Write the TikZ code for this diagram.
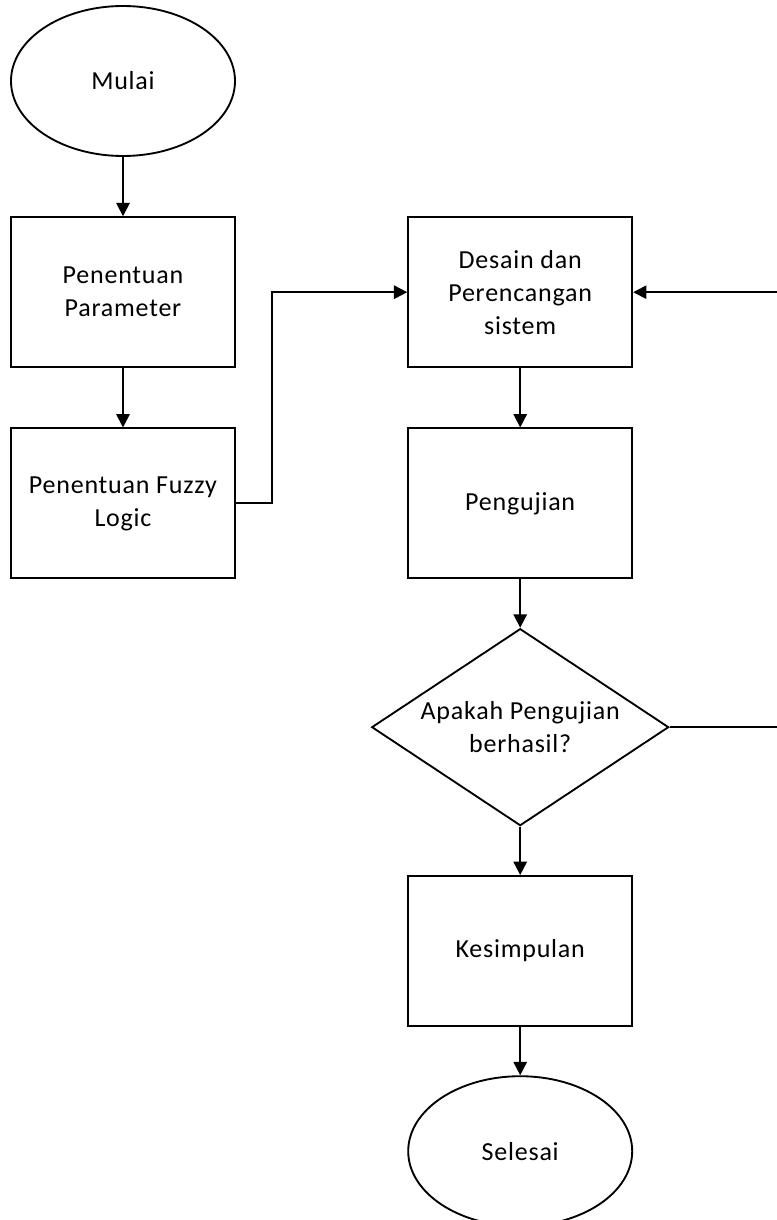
\documentclass[tikz,border=0pt]{standalone}
\usepackage{fontspec}
\setmainfont{Carlito}[LetterSpace=3]
\usetikzlibrary{arrows.meta, positioning, shapes.geometric}

\begin{document}
\begin{tikzpicture}[->,>={Triangle[length=10pt,width=10pt]},line width=1.4pt,
                    node distance=44.5pt,font=\fontsize{19.5}{24.75}\selectfont,
                    terminal/.style={ellipse,draw,minimum width=168pt,minimum height=112.5pt,inner sep=0pt},
                    process/.style={rectangle,draw,minimum width=168pt,minimum height=112.5pt,align=center},
                    decision/.style={diamond,draw,shape aspect=1.5,minimum width=222.75pt,minimum height=147.75pt,inner sep=0pt,align=center}]

  \useasboundingbox (0,0) rectangle (582pt,-915pt);

  \node[terminal] (mulai) at (92.25pt,-60.75pt) {Mulai};
  \node[process] (param) [below=of mulai] {Penentuan\\Parameter};
  \node[process] (fuzzy) [below=of param] {Penentuan Fuzzy\\Logic};
  \node[process] (desain) [right=128.5pt of param] {Desain dan\\Perencangan\\sistem};
  \node[process] (pengujian) [below=of desain] {Pengujian};
  \node[decision] (keputusan) [below=36.3pt of pengujian] {Apakah Pengujian\\berhasil?};
  \node[process] (kesimpulan) [below=36.3pt of keputusan] {Kesimpulan};
  \node[terminal] (selesai) [below=36.3pt of kesimpulan] {Selesai};

  % loop back runs just past the right edge
  \coordinate (kanan) at ([xshift=84pt]keputusan.east);

  \path
    (mulai) edge (param)
    (param) edge (fuzzy)
    (desain) edge (pengujian)
    (pengujian) edge (keputusan)
    (keputusan) edge (kesimpulan)
    (kesimpulan) edge (selesai);

  \draw (fuzzy.east) -- ++(27pt,0) |- (desain.west);
  \draw (keputusan.east) -- (kanan) |- (desain.east);

\end{tikzpicture}
\end{document}
